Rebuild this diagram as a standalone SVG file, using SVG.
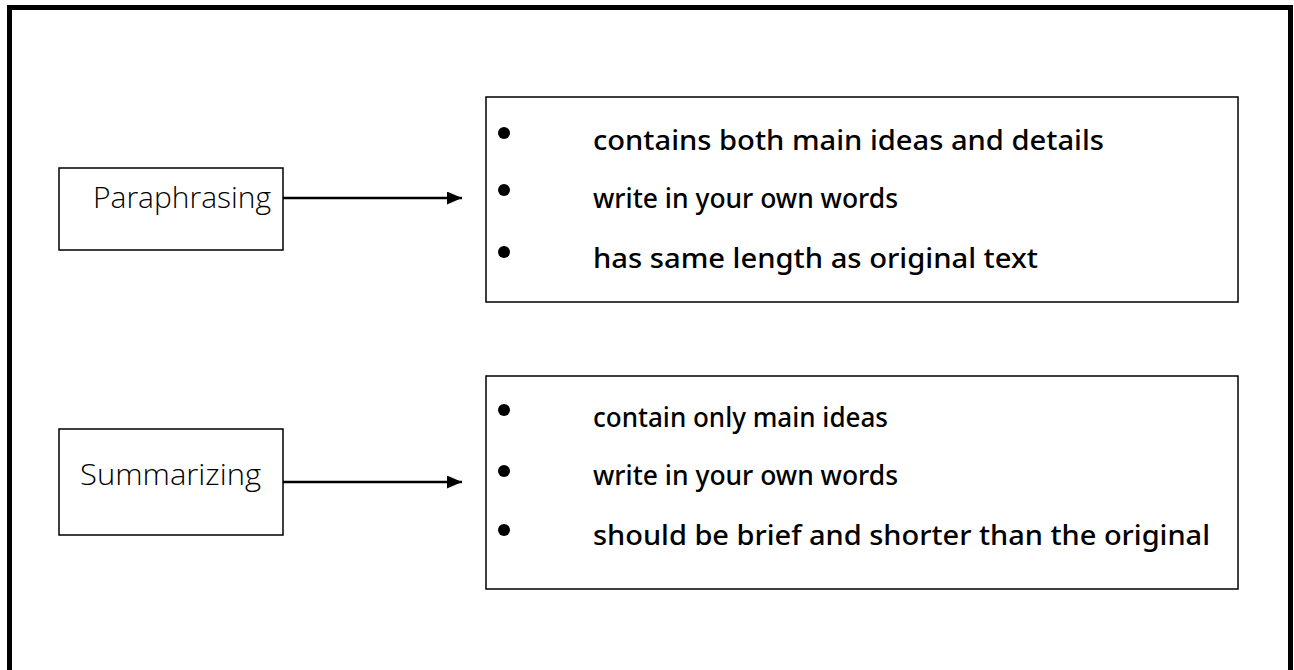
<svg xmlns="http://www.w3.org/2000/svg" width="1294" height="670" viewBox="0 0 1294 670">
<defs>
<style>
.frame{fill:none;stroke:#000;stroke-width:5}
.box{fill:#fff;stroke:#000;stroke-width:1.5}
.lbl{font-family:"Open Sans","Noto Sans",sans-serif;font-weight:300;font-size:30px;fill:#000}
.item{font-family:"Noto Sans","DejaVu Sans",sans-serif;font-weight:500;font-size:27px;fill:#000}
.conn{stroke:#000;stroke-width:2.5;fill:none}
</style>
<marker id="ah" viewBox="0 0 15 13" refX="15" refY="6.5" markerWidth="15" markerHeight="13" markerUnits="userSpaceOnUse" orient="auto">
<path d="M0,0 L15,6.5 L0,13 Z" fill="#000"/>
</marker>
</defs>
<rect width="1294" height="670" fill="#fff"/>
<rect class="frame" x="9.5" y="7.5" width="1281" height="700"/>
<g id="paraphrasing">
<rect class="box" x="59" y="168" width="224" height="82"/>
<text class="lbl" x="93" y="208" textLength="178" lengthAdjust="spacingAndGlyphs">Paraphrasing</text>
</g>
<g id="summarizing">
<rect class="box" x="59" y="429" width="224" height="106"/>
<text class="lbl" x="80" y="485" textLength="181" lengthAdjust="spacingAndGlyphs">Summarizing</text>
</g>
<g id="paraphrasing-points">
<rect class="box" x="486" y="97" width="752" height="205"/>
<circle cx="504" cy="133" r="6"/>
<circle cx="504" cy="190" r="6"/>
<circle cx="504" cy="252" r="6"/>
<text class="item" x="593" y="150" textLength="511" lengthAdjust="spacingAndGlyphs">contains both main ideas and details</text>
<text class="item" x="593" y="208" textLength="305" lengthAdjust="spacingAndGlyphs">write in your own words</text>
<text class="item" x="593" y="268" textLength="445" lengthAdjust="spacingAndGlyphs">has same length as original text</text>
</g>
<g id="summarizing-points">
<rect class="box" x="486" y="376" width="752" height="213"/>
<circle cx="504" cy="410" r="6"/>
<circle cx="504" cy="471" r="6"/>
<circle cx="504" cy="530" r="6"/>
<text class="item" x="593" y="427" textLength="295" lengthAdjust="spacingAndGlyphs">contain only main ideas</text>
<text class="item" x="593" y="485" textLength="305" lengthAdjust="spacingAndGlyphs">write in your own words</text>
<text class="item" x="593" y="545" textLength="617" lengthAdjust="spacingAndGlyphs">should be brief and shorter than the original</text>
</g>
<g id="connectors">
<line class="conn" x1="283" y1="198" x2="462" y2="198" marker-end="url(#ah)"/>
<line class="conn" x1="283" y1="482" x2="462" y2="482" marker-end="url(#ah)"/>
</g>
</svg>
